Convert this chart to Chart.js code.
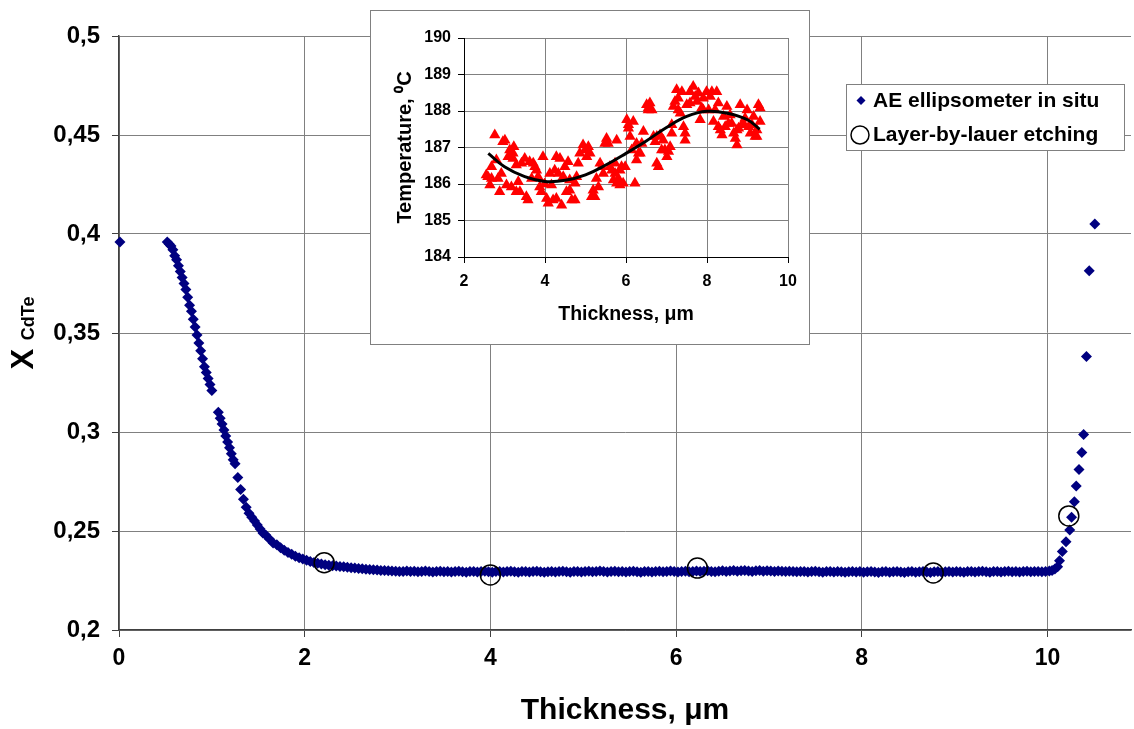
<!DOCTYPE html>
<html>
<head>
<meta charset="utf-8">
<script src="https://cdn.jsdelivr.net/npm/chart.js@4/dist/chart.umd.min.js"></script>
<style>
html, body { margin: 0; padding: 0; background: #fff; overflow: hidden; }
#wrap { position: relative; width: 1134px; height: 729px; }
#main { position: absolute; left: 0; top: 0; }
#inset { position: absolute; left: 370px; top: 10px; width: 440px; height: 335px;
         box-sizing: border-box; border: 1px solid #808080; background: #fff; }
#inset canvas { display: block; }
</style>
</head>
<body>
<div id="wrap">
  <canvas id="main" width="1134" height="729"></canvas>
  <div id="inset"><canvas id="insetChart" width="438" height="333"></canvas></div>
</div>
<script>
var FONT = "'Liberation Sans', Arial, Helvetica, sans-serif";

// AE ellipsometer in situ: steep part at the start
var thicknessDrop = [
  0.01, 0.52, 0.54, 0.56, 0.58, 0.60, 0.62, 0.64, 0.66, 0.68,
  0.70, 0.72, 0.74, 0.76, 0.78, 0.80, 0.82, 0.84, 0.86, 0.88,
  0.90, 0.92, 0.94, 0.96, 0.98, 1.00, 1.07, 1.09, 1.11, 1.13,
  1.15, 1.17, 1.19, 1.21, 1.23, 1.25, 1.28, 1.31, 1.34, 1.37,
  1.40, 1.43, 1.46, 1.49, 1.52, 1.55, 1.58, 1.62, 1.66, 1.70,
  1.74, 1.78, 1.82, 1.86, 1.90, 1.94, 1.98, 2.02, 2.06, 2.10,
  2.14, 2.18, 2.22
];
var xCdTeDrop = [
  0.396, 0.396, 0.395, 0.394, 0.392, 0.389, 0.387, 0.384, 0.381, 0.378,
  0.375, 0.372, 0.368, 0.364, 0.361, 0.357, 0.353, 0.349, 0.345, 0.341,
  0.337, 0.333, 0.330, 0.327, 0.324, 0.321, 0.310, 0.307, 0.304, 0.301,
  0.298, 0.295, 0.292, 0.289, 0.286, 0.284, 0.277, 0.271, 0.266, 0.262,
  0.259, 0.257, 0.255, 0.253, 0.251, 0.249, 0.248, 0.246, 0.244, 0.243,
  0.2415, 0.2403, 0.2392, 0.2382, 0.2373, 0.2365, 0.2358, 0.2352, 0.2346, 0.2341,
  0.2337, 0.2333, 0.2330
];
// AE ellipsometer in situ: flat part
var thicknessFlat = [
  2.26, 2.30, 2.34, 2.38, 2.42, 2.46, 2.50, 2.54, 2.58, 2.62,
  2.66, 2.70, 2.74, 2.78, 2.82, 2.86, 2.90, 2.94, 2.98, 3.02,
  3.06, 3.10, 3.14, 3.18, 3.22, 3.26, 3.30, 3.34, 3.38, 3.42,
  3.46, 3.50, 3.54, 3.58, 3.62, 3.66, 3.70, 3.74, 3.78, 3.82,
  3.86, 3.90, 3.94, 3.98, 4.02, 4.06, 4.10, 4.14, 4.18, 4.22,
  4.26, 4.30, 4.34, 4.38, 4.42, 4.46, 4.50, 4.54, 4.58, 4.62,
  4.66, 4.70, 4.74, 4.78, 4.82, 4.86, 4.90, 4.94, 4.98, 5.02,
  5.06, 5.10, 5.14, 5.18, 5.22, 5.26, 5.30, 5.34, 5.38, 5.42,
  5.46, 5.50, 5.54, 5.58, 5.62, 5.66, 5.70, 5.74, 5.78, 5.82,
  5.86, 5.90, 5.94, 5.98, 6.02, 6.06, 6.10, 6.14, 6.18, 6.22,
  6.26, 6.30, 6.34, 6.38, 6.42, 6.46, 6.50, 6.54, 6.58, 6.62,
  6.66, 6.70, 6.74, 6.78, 6.82, 6.86, 6.90, 6.94, 6.98, 7.02,
  7.06, 7.10, 7.14, 7.18, 7.22, 7.26, 7.30, 7.34, 7.38, 7.42,
  7.46, 7.50, 7.54, 7.58, 7.62, 7.66, 7.70, 7.74, 7.78, 7.82,
  7.86, 7.90, 7.94, 7.98, 8.02, 8.06, 8.10, 8.14, 8.18, 8.22,
  8.26, 8.30, 8.34, 8.38, 8.42, 8.46, 8.50, 8.54, 8.58, 8.62,
  8.66, 8.70, 8.74, 8.78, 8.82, 8.86, 8.90, 8.94, 8.98, 9.02,
  9.06, 9.10, 9.14, 9.18, 9.22, 9.26, 9.30, 9.34, 9.38, 9.42,
  9.46, 9.50, 9.54, 9.58, 9.62, 9.66, 9.70, 9.74, 9.78, 9.82,
  9.86, 9.90, 9.94, 9.98, 10.02
];
var xCdTeFlat = [
  0.2327, 0.2325, 0.2323, 0.2321, 0.2319, 0.2317, 0.2315, 0.2313, 0.2311, 0.2309,
  0.2307, 0.2306, 0.2304, 0.2303, 0.2301, 0.2300, 0.2299, 0.2298, 0.2297, 0.2296,
  0.2296, 0.2298, 0.2295, 0.2297, 0.2294, 0.2296, 0.2298, 0.2295, 0.2293, 0.2296,
  0.2297, 0.2294, 0.2296, 0.2293, 0.2295, 0.2297, 0.2294, 0.2292, 0.2295, 0.2296,
  0.2293, 0.2295, 0.2297, 0.2294, 0.2292, 0.2295, 0.2296, 0.2293, 0.2295, 0.2297,
  0.2294, 0.2292, 0.2295, 0.2296, 0.2293, 0.2295, 0.2297, 0.2294, 0.2292, 0.2294,
  0.2296, 0.2293, 0.2295, 0.2297, 0.2294, 0.2292, 0.2295, 0.2296, 0.2293, 0.2295,
  0.2297, 0.2294, 0.2296, 0.2298, 0.2295, 0.2293, 0.2296, 0.2297, 0.2294, 0.2296,
  0.2293, 0.2295, 0.2297, 0.2294, 0.2292, 0.2295, 0.2296, 0.2293, 0.2295, 0.2297,
  0.2294, 0.2296, 0.2298, 0.2295, 0.2293, 0.2296, 0.2297, 0.2294, 0.2296, 0.2298,
  0.2295, 0.2297, 0.2299, 0.2296, 0.2294, 0.2297, 0.2299, 0.2296, 0.2298, 0.2300,
  0.2297, 0.2299, 0.2301, 0.2298, 0.2296, 0.2299, 0.2300, 0.2297, 0.2299, 0.2298,
  0.2296, 0.2298, 0.2297, 0.2295, 0.2297, 0.2296, 0.2294, 0.2296, 0.2295, 0.2293,
  0.2295, 0.2297, 0.2294, 0.2292, 0.2295, 0.2296, 0.2293, 0.2295, 0.2294, 0.2292,
  0.2294, 0.2296, 0.2293, 0.2295, 0.2292, 0.2294, 0.2296, 0.2293, 0.2291, 0.2294,
  0.2295, 0.2292, 0.2294, 0.2296, 0.2293, 0.2291, 0.2294, 0.2295, 0.2292, 0.2294,
  0.2296, 0.2293, 0.2291, 0.2294, 0.2295, 0.2292, 0.2294, 0.2296, 0.2293, 0.2295,
  0.2294, 0.2292, 0.2295, 0.2296, 0.2293, 0.2295, 0.2297, 0.2294, 0.2292, 0.2295,
  0.2296, 0.2293, 0.2295, 0.2297, 0.2294, 0.2296, 0.2293, 0.2295, 0.2297, 0.2294,
  0.2295, 0.2296, 0.2294, 0.2296, 0.2298
];
// AE ellipsometer in situ: rise at the end
var thicknessRise = [10.05, 10.08, 10.11, 10.13, 10.16, 10.20, 10.24, 10.26, 10.29, 10.31,
                     10.34, 10.37, 10.39, 10.42, 10.45, 10.51];
var xCdTeRise = [0.2300, 0.2308, 0.2320, 0.2350, 0.2396, 0.2446, 0.2505, 0.2570, 0.2648, 0.2727,
                 0.2811, 0.2896, 0.2988, 0.3381, 0.3815, 0.4051];

// Layer-by-lauer etching
var thicknessEtch = [2.21, 4.00, 6.23, 8.77, 10.23];
var xCdTeEtch = [0.2340, 0.2278, 0.2313, 0.2288, 0.2576];

// inset: temperature vs thickness
var insetThickness = [
  2.59, 2.64, 2.68, 2.68, 2.76, 2.80, 2.88, 2.92, 2.96, 3.01,
  3.09, 3.13, 3.17, 3.21, 3.21, 3.29, 3.29, 3.34, 3.42, 3.50,
  3.54, 3.58, 3.67, 3.71, 3.75, 3.79, 3.83, 3.87, 3.95, 3.99,
  4.04, 4.12, 4.20, 4.24, 4.28, 4.33, 4.37, 4.41, 4.45, 4.53,
  4.57, 4.61, 4.66, 4.74, 4.74, 4.82, 4.86, 4.94, 4.99, 5.07,
  5.11, 5.15, 5.23, 5.27, 5.32, 5.36, 5.44, 5.52, 5.56, 5.60,
  5.65, 5.69, 5.73, 5.77, 5.81, 5.85, 5.89, 5.93, 5.98, 6.02,
  6.06, 6.10, 6.14, 6.18, 6.22, 6.26, 6.31, 6.39, 6.43, 6.51,
  6.55, 6.59, 6.64, 6.68, 6.72, 6.76, 6.80, 6.84, 6.92, 6.96,
  7.01, 7.05, 7.09, 7.13, 7.17, 7.21, 7.25, 7.29, 7.34, 7.38,
  7.42, 7.46, 7.50, 7.58, 7.66, 7.71, 7.75, 7.83, 7.87, 7.91,
  7.99, 8.04, 8.12, 8.16, 8.24, 8.28, 8.33, 8.37, 8.41, 8.49,
  8.53, 8.57, 8.66, 8.70, 8.74, 8.78, 8.82, 8.86, 8.90, 8.99,
  9.03, 9.07, 9.15, 9.19, 9.23, 9.27, 9.31,
  2.55, 2.84, 3.05, 3.23, 3.38, 3.62, 3.91, 4.08, 4.16, 4.28,
  4.49, 4.61, 4.78, 5.03, 5.19, 5.40, 5.48, 5.73, 5.77, 5.85,
  6.06, 6.26, 6.35, 6.55, 6.76, 6.88, 7.13, 7.29, 7.46, 7.58,
  7.79, 7.91, 8.08, 8.20, 8.28, 8.45, 8.61, 8.74, 8.94, 9.11,
  9.23, 9.31
];
var insetTemp = [
  186.20, 185.97, 186.47, 186.15, 187.34, 186.66, 185.79, 186.29, 187.16, 187.20,
  186.75, 186.93, 185.92, 186.70, 186.84, 185.79, 186.52, 186.06, 186.57, 186.70,
  185.65, 185.56, 186.15, 186.57, 186.47, 186.38, 186.20, 185.92, 186.75, 186.00,
  185.60, 186.29, 185.56, 186.38, 186.75, 186.29, 186.70, 185.42, 186.20, 185.79,
  186.61, 186.11, 185.56, 185.56, 186.02, 186.57, 186.84, 187.07, 186.93, 187.02,
  186.84, 185.65, 185.65, 186.15, 185.92, 186.57, 186.29, 187.25, 187.11, 186.47,
  186.38, 186.11, 186.57, 187.20, 186.15, 185.97, 186.47, 186.02, 186.47, 187.76,
  187.53, 187.30, 186.93, 187.71, 186.02, 186.66, 186.84, 187.11, 187.44, 188.17,
  188.08, 188.22, 188.03, 187.30, 187.16, 186.57, 186.47, 187.34, 187.20, 186.93,
  186.75, 186.89, 187.02, 187.39, 188.12, 188.26, 188.58, 188.03, 187.94, 188.53,
  187.57, 187.20, 188.17, 188.53, 188.67, 188.40, 188.26, 187.76, 188.08, 188.35,
  188.53, 188.03, 188.53, 187.71, 188.53, 188.22, 187.48, 187.34, 187.85, 188.12,
  187.66, 187.89, 187.39, 187.25, 187.07, 187.53, 188.17, 187.62, 187.66, 188.03,
  187.57, 187.39, 187.85, 187.30, 187.30, 188.17, 187.71,
  186.25, 186.15, 185.97, 187.02, 185.79, 186.61, 185.79, 185.47, 185.97, 185.60,
  186.47, 185.83, 186.20, 186.75, 185.83, 186.47, 187.11, 186.29, 186.02, 186.38,
  187.62, 187.11, 186.84, 188.03, 187.30, 186.93, 187.62, 188.35, 187.39, 188.22,
  188.49, 188.03, 188.40, 188.03, 187.57, 187.57, 187.66, 187.48, 187.80, 187.62,
  187.48, 188.08
];
// trend line of the inset
var trendThickness = [2.6, 3.0, 3.5, 4.0, 4.5, 5.0, 5.5, 6.0, 6.5, 7.0, 7.5, 8.0, 8.5, 9.0, 9.3];
var trendTemp = [186.84, 186.47, 186.2, 186.07, 186.1, 186.25, 186.52, 186.84, 187.18, 187.55, 187.85, 187.99, 187.94, 187.76, 187.5];

function pairs(xs, ys) {
  return xs.map(function (x, i) { return { x: x, y: ys[i] }; });
}
function comma(v) {
  return String(parseFloat(v.toFixed(2))).replace('.', ',');
}

var yTitlePlugin = {
  id: 'yTitle',
  afterDraw: function (chart) {
    var ctx = chart.ctx, area = chart.chartArea;
    var big = 'bold 31px ' + FONT, small = 'bold 18px ' + FONT;
    ctx.save();
    ctx.translate(33, (area.top + area.bottom) / 2);
    ctx.rotate(-Math.PI / 2);
    ctx.fillStyle = '#000';
    ctx.textBaseline = 'alphabetic';
    ctx.font = big;
    var w1 = ctx.measureText('X ').width;
    ctx.font = small;
    var w2 = ctx.measureText('CdTe').width;
    var x0 = -(w1 + w2) / 2;
    ctx.font = big;
    ctx.fillText('X', x0, 0);
    ctx.font = small;
    ctx.fillText('CdTe', x0 + w1, 1);
    ctx.restore();
  }
};

var legendPlugin = {
  id: 'boxLegend',
  afterDraw: function (chart) {
    var ctx = chart.ctx;
    ctx.save();
    ctx.fillStyle = '#fff';
    ctx.strokeStyle = '#808080';
    ctx.lineWidth = 1;
    ctx.fillRect(846.5, 84.5, 278, 66);
    ctx.strokeRect(846.5, 84.5, 278, 66);
    ctx.fillStyle = '#000080';
    ctx.beginPath();
    ctx.moveTo(861, 96); ctx.lineTo(865.5, 100.5); ctx.lineTo(861, 105); ctx.lineTo(856.5, 100.5);
    ctx.closePath(); ctx.fill();
    ctx.strokeStyle = '#000';
    ctx.lineWidth = 1.5;
    ctx.beginPath(); ctx.arc(860, 135, 9, 0, Math.PI * 2); ctx.stroke();
    ctx.fillStyle = '#000';
    ctx.font = 'bold 21px ' + FONT;
    ctx.textBaseline = 'middle';
    ctx.fillText('AE ellipsometer in situ', 873, 101);
    ctx.fillText('Layer-by-lauer etching', 873, 135);
    ctx.restore();
  }
};

var aeStyle = {
  pointStyle: 'rectRot', pointRadius: 5.5, backgroundColor: '#000080',
  borderColor: '#000080', borderWidth: 0, order: 1, clip: false
};

new Chart(document.getElementById('main'), {
  type: 'scatter',
  data: {
    datasets: [
      Object.assign({ label: 'AE ellipsometer in situ', data: pairs(thicknessDrop, xCdTeDrop) }, aeStyle),
      Object.assign({ label: 'AE ellipsometer in situ', data: pairs(thicknessFlat, xCdTeFlat) }, aeStyle),
      Object.assign({ label: 'AE ellipsometer in situ', data: pairs(thicknessRise, xCdTeRise) }, aeStyle),
      {
        label: 'Layer-by-lauer etching',
        data: pairs(thicknessEtch, xCdTeEtch),
        pointStyle: 'circle',
        pointRadius: 10,
        backgroundColor: 'rgba(0,0,0,0)',
        borderColor: '#000',
        borderWidth: 1.5,
        order: 0,
        clip: false
      }
    ]
  },
  options: {
    responsive: false,
    animation: false,
    layout: { autoPadding: false, padding: { left: 0, top: 36, right: 3, bottom: 0 } },
    plugins: { legend: { display: false }, tooltip: { enabled: false } },
    scales: {
      x: {
        type: 'linear', min: 0, max: 10.9,
        ticks: { stepSize: 2, includeBounds: false, maxRotation: 0, padding: 8, color: '#000',
                 font: { family: FONT, size: 23, weight: 'bold' } },
        grid: { color: '#808080', tickLength: 7, tickColor: '#404040' },
        border: { color: '#404040', width: 1.5 },
        title: { display: true, text: 'Thickness, μm', color: '#000', padding: { top: 0, bottom: 0 },
                 font: { family: FONT, size: 30, weight: 'bold' } },
        afterFit: function (s) { s.height = 99; }
      },
      y: {
        min: 0.2, max: 0.5,
        ticks: { stepSize: 0.05, padding: 12, color: '#000', callback: comma,
                 font: { family: FONT, size: 24, weight: 'bold' } },
        grid: { color: '#808080', tickLength: 7, tickColor: '#404040' },
        border: { color: '#404040', width: 1.5 },
        afterFit: function (s) { s.width = 119; }
      }
    }
  },
  plugins: [yTitlePlugin, legendPlugin]
});

new Chart(document.getElementById('insetChart'), {
  type: 'scatter',
  data: {
    datasets: [{
      label: 'trend',
      data: pairs(trendThickness, trendTemp),
      showLine: true,
      tension: 0.4,
      borderColor: '#000',
      borderWidth: 3,
      pointRadius: 0,
      order: 0
    }, {
      label: 'Temperature',
      data: pairs(insetThickness, insetTemp),
      pointStyle: 'triangle',
      pointRadius: 6.5,
      backgroundColor: '#ff0000',
      borderColor: '#ff0000',
      borderWidth: 0,
      order: 1
    }]
  },
  options: {
    responsive: false,
    animation: false,
    layout: { autoPadding: false, padding: { left: 0, top: 27, right: 21, bottom: 0 } },
    plugins: { legend: { display: false }, tooltip: { enabled: false } },
    scales: {
      x: {
        type: 'linear', min: 2, max: 10,
        ticks: { stepSize: 2, maxRotation: 0, padding: 9, color: '#000',
                 font: { family: FONT, size: 16, weight: 'bold' } },
        grid: { color: '#808080', tickLength: 6, tickColor: '#000' },
        border: { color: '#000', width: 1 },
        title: { display: true, text: 'Thickness, μm', color: '#000', padding: { top: 0, bottom: 18 },
                 font: { family: FONT, size: 19.5, weight: 'bold' } },
        afterFit: function (s) { s.height = 87; }
      },
      y: {
        min: 184, max: 190,
        ticks: { stepSize: 1, padding: 7, color: '#000',
                 font: { family: FONT, size: 16, weight: 'bold' } },
        grid: { color: '#808080', tickLength: 6, tickColor: '#000' },
        border: { color: '#000', width: 1 },
        title: { display: true, text: 'Temperature, ⁰C', color: '#000', padding: { top: 22, bottom: 0 },
                 font: { family: FONT, size: 20, weight: 'bold' } },
        afterFit: function (s) { s.width = 93; }
      }
    }
  }
});
</script>
</body>
</html>
